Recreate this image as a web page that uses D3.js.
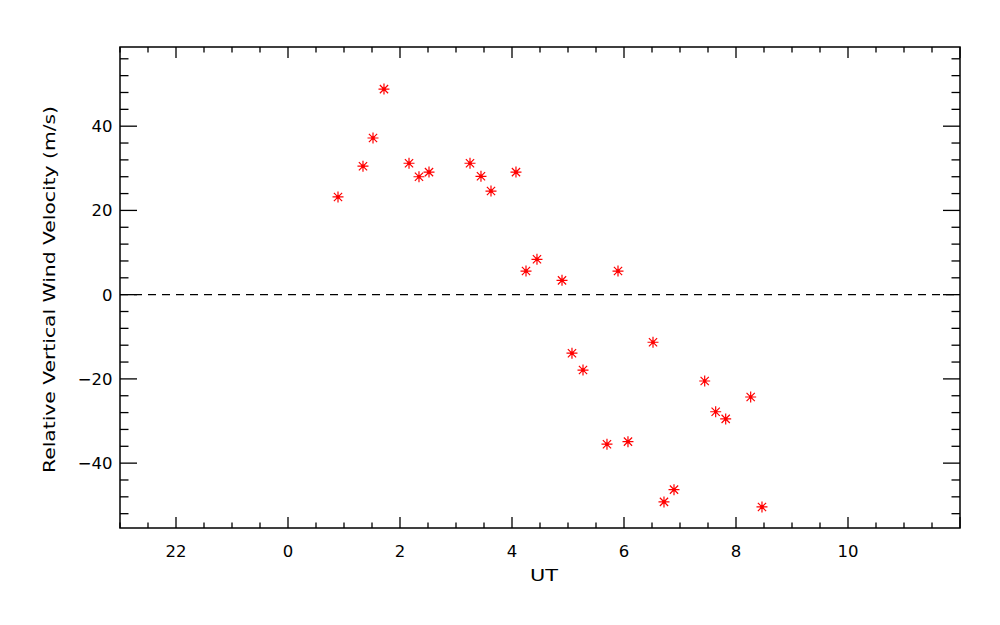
<!DOCTYPE html>
<html><head><meta charset="utf-8">
<script src="https://cdn.jsdelivr.net/npm/d3@7/dist/d3.min.js"></script>
<style>body{margin:0;background:#fff}svg{display:block}text{font-family:"DejaVu Sans",sans-serif;fill:#000}</style>
</head><body>
<script>
const utHours = [0.893,1.339,1.518,1.714,2.161,2.339,2.518,3.250,3.446,3.625,4.071,4.250,4.446,4.893,5.071,5.268,5.696,5.893,6.071,6.518,6.714,6.893,7.441,7.637,7.816,8.262,8.464];
const windVel = [23.2,30.5,37.2,48.8,31.2,28.0,29.1,31.2,28.1,24.6,29.1,5.6,8.4,3.4,-13.9,-17.9,-35.5,5.6,-34.9,-11.3,-49.2,-46.3,-20.5,-27.8,-29.5,-24.3,-50.4];
const xMajorTicks = [-2,0,2,4,6,8,10];
const xTickLabels = ["22","0","2","4","6","8","10"];
const yMajorTicks = [-40,-20,0,20,40];
const yTickLabels = ["\u221240","\u221220","0","20","40"];
const xDomain = [-3,12];
const yDomain = [-55.4,58.8];

const W=1000,H=625, L=120,R=960,T=47,B=528;
const svg=d3.select("body").append("svg").attr("width",W).attr("height",H);
const x=d3.scaleLinear().domain(xDomain).range([L,R]);
const y=d3.scaleLinear().domain(yDomain).range([B,T]);

const g=svg.append("g");
g.append("rect").attr("x",L).attr("y",T).attr("width",R-L).attr("height",B-T)
 .attr("fill","none").attr("stroke","#000").attr("stroke-width",1.5);

const xMinor=d3.range(xDomain[0],xDomain[1]+0.001,0.5);
const yMinor=d3.range(-52,58.8,4);
const isMajX=v=>Math.abs(v/2-Math.round(v/2))<1e-6;
const isMajY=v=>Math.abs(v/20-Math.round(v/20))<1e-6;
xMinor.forEach(v=>{
  const len=isMajX(v)?11:5.5, px=x(v);
  g.append("line").attr("x1",px).attr("x2",px).attr("y1",B).attr("y2",B-len).attr("stroke","#000").attr("stroke-width",1.3);
  g.append("line").attr("x1",px).attr("x2",px).attr("y1",T).attr("y2",T+len).attr("stroke","#000").attr("stroke-width",1.3);
});
yMinor.forEach(v=>{
  const len=isMajY(v)?17:8.5, py=y(v);
  g.append("line").attr("x1",L).attr("x2",L+len).attr("y1",py).attr("y2",py).attr("stroke","#000").attr("stroke-width",1.3);
  g.append("line").attr("x1",R).attr("x2",R-len).attr("y1",py).attr("y2",py).attr("stroke","#000").attr("stroke-width",1.3);
});
xMajorTicks.forEach((v,i)=>{
  g.append("text").attr("x",x(v)).attr("y",557).attr("text-anchor","middle").attr("font-size",16.5).text(xTickLabels[i]);
});
yMajorTicks.forEach((v,i)=>{
  g.append("text").attr("x",112.5).attr("y",y(v)+6).attr("text-anchor","end").attr("font-size",16.5).text(yTickLabels[i]);
});
g.append("text").attr("x",544).attr("y",581).attr("text-anchor","middle").attr("font-size",16.5)
 .attr("textLength",28).attr("lengthAdjust","spacingAndGlyphs").text("UT");
g.append("text").attr("transform","translate(55,289.5) rotate(-90)").attr("text-anchor","middle").attr("font-size",16.5)
 .attr("textLength",367).attr("lengthAdjust","spacingAndGlyphs").text("Relative Vertical Wind Velocity (m/s)");

g.append("line").attr("x1",L).attr("x2",R).attr("y1",y(0)).attr("y2",y(0))
 .attr("stroke","#000").attr("stroke-width",1.3).attr("stroke-dasharray","8,6");

const r=5.5, d=r*0.75;
const star=`M${-r},0L${r},0M0,${-r}L0,${r}M${-d},${-d}L${d},${d}M${-d},${d}L${d},${-d}`;
const pts=g.append("g").selectAll("g").data(utHours.map((u,i)=>[u,windVel[i]])).join("g")
 .attr("transform",p=>`translate(${x(p[0])},${y(p[1])})`);
pts.append("path").attr("d",star).attr("stroke","#ff0000").attr("stroke-width",1.2).attr("fill","none");
pts.append("circle").attr("r",1.7).attr("fill","#ff0000");
</script>
</body></html>
